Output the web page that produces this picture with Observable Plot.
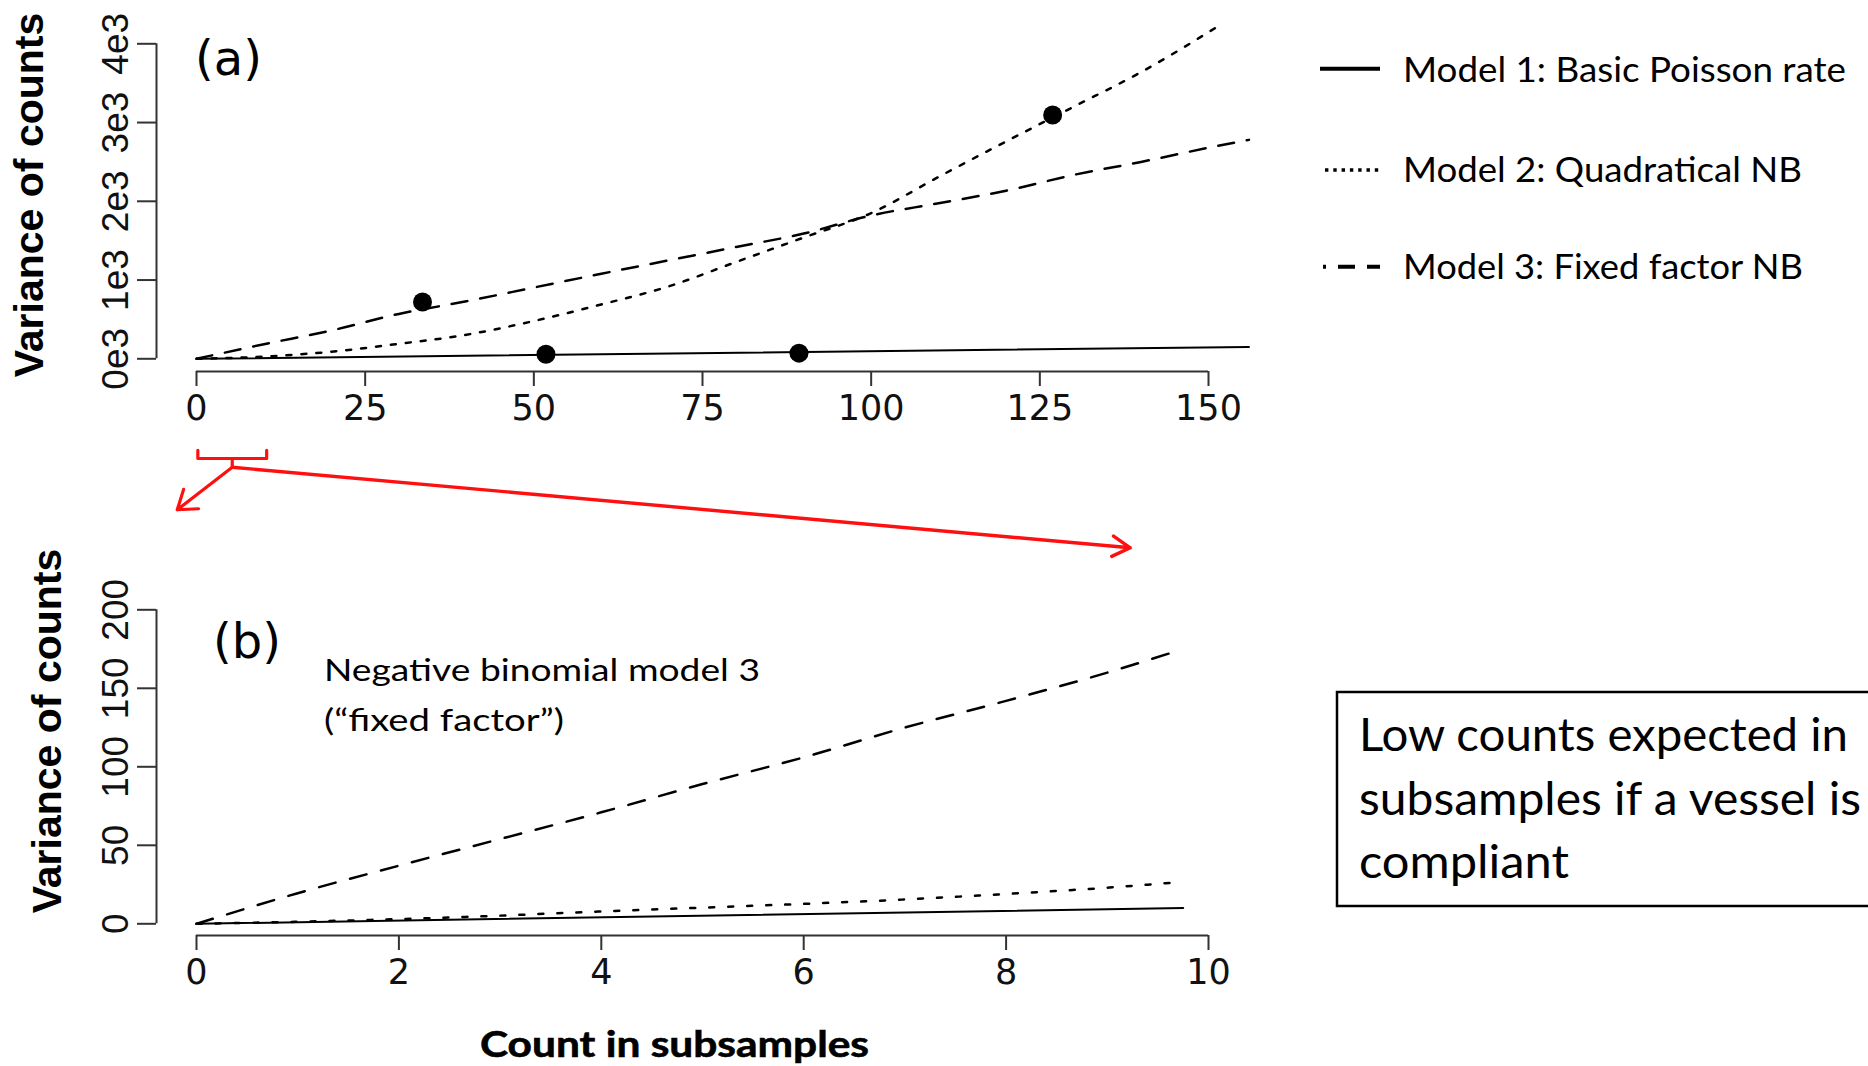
<!DOCTYPE html>
<html>
<head>
<meta charset="utf-8">
<script src="https://cdn.jsdelivr.net/npm/d3@7"></script>
<script src="https://cdn.jsdelivr.net/npm/@observablehq/plot@0.6"></script>
<style>
html, body { margin: 0; padding: 0; background: #fff; }
#root { position: relative; width: 1868px; height: 1066px; overflow: hidden; background: #fff; }
#root > * { position: absolute; left: 0; }
</style>
</head>
<body>
<div id="root"></div>
<script>
// ---------------- DATA ----------------
const seriesNames = ["Model 1: Basic Poisson rate", "Model 2: Quadratical NB", "Model 3: Fixed factor NB"];

// Panel (a): full range of counts
const aTicksX = [0, 25, 50, 75, 100, 125, 150];
const aTicksY = [0, 1000, 2000, 3000, 4000];
const aModel1X = [0, 156];
const aModel1Y = [0, 150];
const aModel2X = [0, 10, 20, 30, 40, 50, 60, 70, 80, 90, 100, 110, 120, 130, 140, 151];
const aModel2Y = [0, 28, 90, 190, 305, 480, 690, 920, 1230, 1540, 1850, 2310, 2760, 3200, 3640, 4200];
const aModel3X = [0, 10, 20, 30, 40, 50, 60, 70, 80, 90, 100, 110, 120, 130, 140, 150, 156];
const aModel3Y = [0, 185, 360, 570, 730, 905, 1080, 1250, 1420, 1590, 1820, 1975, 2135, 2335, 2500, 2680, 2780];
const aPointsX = [33.5, 51.8, 89.3, 126.9];
const aPointsY = [722, 57, 72, 3097];

// Panel (b): zoom on low counts
const bTicksX = [0, 2, 4, 6, 8, 10];
const bTicksY = [0, 50, 100, 150, 200];
const bModel1X = [0, 9.75];
const bModel1Y = [0, 10];
const bModel2X = [0, 1, 2, 3, 4, 5, 6, 7, 8, 9, 9.7];
const bModel2Y = [0, 1.3, 3.0, 5.2, 7.9, 10.3, 12.7, 15.5, 19, 23, 26.5];
const bModel3X = [0, 1, 2, 3, 4, 5, 6, 7, 8, 9, 9.7];
const bModel3Y = [0, 19.5, 37, 54, 71, 89, 106, 125, 142, 160, 174];

// Zoom annotation (in panel (a) data units): bracket over counts 0–10
const bracketX = [0.2, 0.2, 10.4, 10.4];
const bracketY = [-1164, -1266, -1266, -1164];
const stemX = [5.3, 5.3];
const stemY = [-1266, -1377];
const zoomArrowsLong = [{x1: 5.3, y1: -1377, x2: 138.4, y2: -2400}];
const zoomArrowsShort = [{x1: 5.3, y1: -1377, x2: -2.85, y2: -1917}];

// Texts
const yTitle = "Variance of counts";
const xTitle = "Count in subsamples";
const panelLabels = ["(a)", "(b)"];
const nbNote = ["Negative binomial model 3", "(\u201cfixed factor\u201d)"];
const boxLines = ["Low counts expected in", "subsamples if a vessel is", "compliant"];

// ---------------- HELPERS ----------------
const pts = (xs, ys) => xs.map((x, i) => ({x, y: ys[i]}));
function linDomain(p0, v0, p1, v1, r0, r1) {
  const k = (p1 - p0) / (v1 - v0);
  return [v0 + (r0 - p0) / k, v0 + (r1 - p0) / k];
}
const root = document.getElementById("root");
const W = 1300;
const AXIS = "#333";
const RED = "#ff1010";

// ---------------- PANEL (a) ----------------
{
  const H = 560, mL = 156, mR = 38, mT = 20, bottom = 371;
  const xd = linDomain(196, 0, 1208, 150, mL, W - mR);
  const yd = linDomain(358.3, 0, 43.3, 4000, bottom, mT);
  const chart = Plot.plot({
    width: W, height: H,
    marginLeft: mL, marginRight: mR, marginTop: mT, marginBottom: H - bottom,
    style: {background: "transparent", overflow: "visible"},
    x: {domain: xd},
    y: {domain: yd},
    marks: [
      Plot.ruleY([yd[0]], {x1: 0, x2: 150, stroke: AXIS, strokeWidth: 2}),
      Plot.ruleX([xd[0]], {y1: 0, y2: 4000, stroke: AXIS, strokeWidth: 2}),
      Plot.axisX(aTicksX, {tickSize: 15, tickPadding: 9, stroke: AXIS, strokeWidth: 2,
        fontSize: 35, fontFamily: "DejaVu Sans", fill: "#111", label: null}),
      Plot.axisY(aTicksY, {tickSize: 19, tickPadding: 10, tickRotate: -90, stroke: AXIS, strokeWidth: 2,
        tickFormat: d => `${d / 1000}e3`, fontSize: 37, fontFamily: "Liberation Sans", fill: "#111",
        label: null, style: {letterSpacing: "-2px"}}),
      Plot.line(pts(aModel1X, aModel1Y), {x: "x", y: "y", stroke: "#000", strokeWidth: 2}),
      Plot.line(pts(aModel2X, aModel2Y), {x: "x", y: "y", stroke: "#000", strokeWidth: 2.5, strokeDasharray: "5,10", curve: "monotone-x"}),
      Plot.line(pts(aModel3X, aModel3Y), {x: "x", y: "y", stroke: "#000", strokeWidth: 2.5, strokeDasharray: "16,13", curve: "monotone-x"}),
      Plot.dot(pts(aPointsX, aPointsY), {x: "x", y: "y", r: 9.5, fill: "#000", stroke: "none"}),
      Plot.line(pts(bracketX, bracketY), {x: "x", y: "y", stroke: RED, strokeWidth: 3.2}),
      Plot.line(pts(stemX, stemY), {x: "x", y: "y", stroke: RED, strokeWidth: 3.2}),
      Plot.arrow(zoomArrowsLong, {x1: "x1", y1: "y1", x2: "x2", y2: "y2", stroke: RED, strokeWidth: 3.4, headLength: 9, headAngle: 60}),
      Plot.arrow(zoomArrowsShort, {x1: "x1", y1: "y1", x2: "x2", y2: "y2", stroke: RED, strokeWidth: 3.2, headLength: 10, headAngle: 70})
    ]
  });
  chart.style.top = "0px";
  root.appendChild(chart);
}

// ---------------- PANEL (b) ----------------
{
  const top = 560, H = 1066 - top, mL = 156, mR = 38, mT = 20, bottom = 935 - top;
  const xd = linDomain(196, 0, 1208, 10, mL, W - mR);
  const yd = linDomain(923.3 - top, 0, 609.3 - top, 200, bottom, mT);
  const chart = Plot.plot({
    width: W, height: H,
    marginLeft: mL, marginRight: mR, marginTop: mT, marginBottom: H - bottom,
    style: {background: "transparent", overflow: "visible"},
    x: {domain: xd},
    y: {domain: yd},
    marks: [
      Plot.ruleY([yd[0]], {x1: 0, x2: 10, stroke: AXIS, strokeWidth: 2}),
      Plot.ruleX([xd[0]], {y1: 0, y2: 200, stroke: AXIS, strokeWidth: 2}),
      Plot.axisX(bTicksX, {tickSize: 15, tickPadding: 9, stroke: AXIS, strokeWidth: 2,
        fontSize: 35, fontFamily: "DejaVu Sans", fill: "#111", label: null}),
      Plot.axisY(bTicksY, {tickSize: 19, tickPadding: 10, tickRotate: -90, stroke: AXIS, strokeWidth: 2,
        fontSize: 37, fontFamily: "Liberation Sans", fill: "#111", label: null, style: {letterSpacing: "-2px"}}),
      Plot.line(pts(bModel1X, bModel1Y), {x: "x", y: "y", stroke: "#000", strokeWidth: 2}),
      Plot.line(pts(bModel2X, bModel2Y), {x: "x", y: "y", stroke: "#000", strokeWidth: 2.5, strokeDasharray: "5,14", curve: "monotone-x"}),
      Plot.line(pts(bModel3X, bModel3Y), {x: "x", y: "y", stroke: "#000", strokeWidth: 2.5, strokeDasharray: "17,15", curve: "monotone-x"})
    ]
  });
  chart.style.top = top + "px";
  root.appendChild(chart);
}

// ---------------- TEXT / LEGEND OVERLAY ----------------
{
  const svg = d3.create("svg").attr("width", 1868).attr("height", 1066)
    .style("top", "0px").style("pointer-events", "none");

  // y titles
  [[29, 195], [47, 731]].forEach(([cx, cy]) => {
    svg.append("text").attr("transform", `translate(${cx},${cy}) rotate(-90)`)
      .attr("text-anchor", "middle").attr("dominant-baseline", "central")
      .attr("font-family", "Liberation Sans, Arial, sans-serif").attr("font-weight", "bold")
      .attr("font-size", 41).attr("fill", "#000").text(yTitle);
  });
  // x title
  svg.append("text").attr("x", 480).attr("y", 1057)
    .attr("font-family", "Lato, sans-serif").attr("font-weight", "bold").attr("font-size", 36)
    .attr("textLength", 389).attr("lengthAdjust", "spacingAndGlyphs").attr("fill", "#000")
    .attr("stroke", "#000").attr("stroke-width", 0.6).text(xTitle);

  // panel labels
  [[228.5, 75], [247, 658]].forEach(([x, y], i) => {
    svg.append("text").attr("x", x).attr("y", y).attr("text-anchor", "middle")
      .attr("font-family", "DejaVu Sans, sans-serif").attr("font-size", 48).attr("fill", "#000")
      .text(panelLabels[i]);
  });

  // NB model note
  [[681, 436], [731, 240]].forEach(([y, len], i) => {
    svg.append("text").attr("x", 324).attr("y", y)
      .attr("font-family", "Lato, sans-serif").attr("font-size", 31)
      .attr("textLength", len).attr("lengthAdjust", "spacingAndGlyphs").attr("fill", "#000").text(nbNote[i]);
  });

  // legend
  const legY = [68.7, 170, 266.7];
  const legBase = [81.7, 181.7, 279.3];
  const legLen = [443, 399, 400];
  svg.append("line").attr("x1", 1320).attr("x2", 1380).attr("y1", legY[0]).attr("y2", legY[0])
    .attr("stroke", "#000").attr("stroke-width", 4);
  svg.append("line").attr("x1", 1325).attr("x2", 1380).attr("y1", legY[1]).attr("y2", legY[1])
    .attr("stroke", "#000").attr("stroke-width", 3.5).attr("stroke-dasharray", "3.4,4.9");
  svg.append("line").attr("x1", 1323).attr("x2", 1380).attr("y1", legY[2]).attr("y2", legY[2])
    .attr("stroke", "#000").attr("stroke-width", 4).attr("stroke-dasharray", "3,12,17,12,13,100");
  seriesNames.forEach((name, i) => {
    svg.append("text").attr("x", 1403).attr("y", legBase[i])
      .attr("font-family", "Lato, sans-serif").attr("font-size", 35)
      .attr("textLength", legLen[i]).attr("lengthAdjust", "spacingAndGlyphs").attr("fill", "#000").text(name);
  });

  // box
  svg.append("rect").attr("x", 1337).attr("y", 692).attr("width", 600).attr("height", 214)
    .attr("fill", "none").attr("stroke", "#000").attr("stroke-width", 2.5);
  const boxBase = [751, 814.5, 878];
  const boxLen = [489, 502, 210];
  boxLines.forEach((t, i) => {
    svg.append("text").attr("x", 1359).attr("y", boxBase[i])
      .attr("font-family", "Lato, sans-serif").attr("font-size", 46)
      .attr("textLength", boxLen[i]).attr("lengthAdjust", "spacingAndGlyphs").attr("fill", "#000").text(t);
  });

  root.appendChild(svg.node());
}
</script>
</body>
</html>
